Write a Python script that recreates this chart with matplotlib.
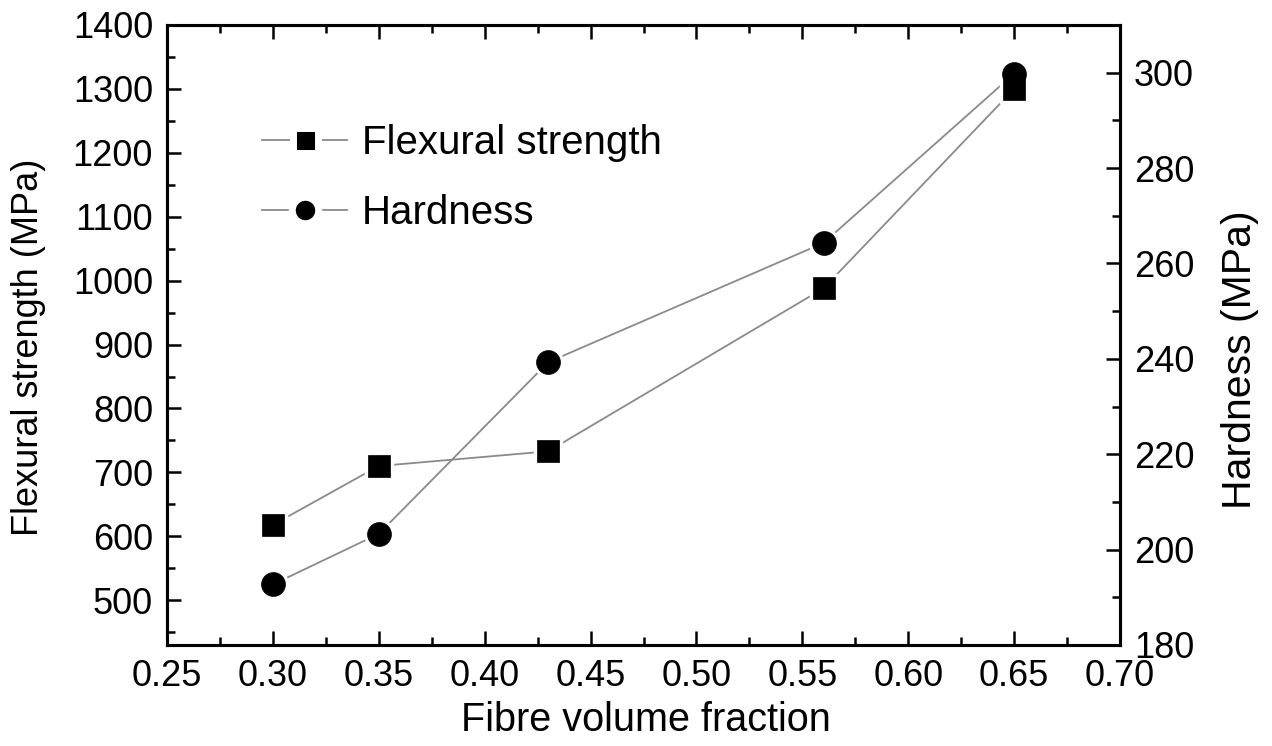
# -*- coding: utf-8 -*-
# Flexural strength and hardness against fibre volume fraction (twin y axes)

import matplotlib
matplotlib.use("Agg")
import matplotlib.pyplot as plt
from matplotlib.lines import Line2D
from matplotlib.ticker import MultipleLocator

plt.rcParams["font.family"] = ["Liberation Sans", "DejaVu Sans"]

# Data
fibre_fraction = [0.30, 0.35, 0.43, 0.56, 0.65]
flexural_strength = [618, 710, 733, 988, 1300]   # MPa, left axis
hardness = [192.7, 203.3, 239.3, 264.3, 299.8]   # MPa, right axis

x_ticks = [0.25, 0.30, 0.35, 0.40, 0.45, 0.50, 0.55, 0.60, 0.65, 0.70]
left_ticks = [500, 600, 700, 800, 900, 1000, 1100, 1200, 1300, 1400]
right_ticks = [180, 200, 220, 240, 260, 280, 300]

LINE_GREY = "#8a8a8a"
TICK_SIZE = 26

fig = plt.figure(figsize=(12.72, 7.46), dpi=100)
ax = fig.add_axes([0.1313, 0.1354, 0.7492, 0.8311])
ax2 = ax.twinx()

ax.set_xlim(0.25, 0.70)
ax.set_ylim(430, 1400)
ax2.set_ylim(180, 310)

# everything drawn on ax2 so that lines < white halos < black markers
series = [
    (flexural_strength, ax.transData, "s", 15.8),
    (hardness, ax2.transData, "o", 17.2),
]
for yvals, trans, mk, size in series:
    ax2.plot(fibre_fraction, yvals, color=LINE_GREY, lw=1.3, transform=trans, zorder=2)
for yvals, trans, mk, size in series:
    ax2.plot(fibre_fraction, yvals, ls="none", marker=mk, ms=size + 4.0,
             mfc="white", mec="white", transform=trans, zorder=3)
for yvals, trans, mk, size in series:
    ax2.plot(fibre_fraction, yvals, ls="none", marker=mk, ms=size,
             mfc="black", mec="black", mew=0.5, transform=trans, zorder=4)

ax.set_xticks(x_ticks)
ax.set_xticklabels(["{:.2f}".format(v) for v in x_ticks])
ax.xaxis.set_minor_locator(MultipleLocator(0.025))
ax.set_yticks(left_ticks)
ax.yaxis.set_minor_locator(MultipleLocator(50))
ax2.set_yticks(right_ticks)
ax2.yaxis.set_minor_locator(MultipleLocator(10))

for a in (ax, ax2):
    for sp in a.spines.values():
        sp.set_linewidth(2.2)
        sp.set_color("black")

ax.tick_params(axis="x", which="both", direction="in", top=True, bottom=True,
               labelsize=TICK_SIZE, pad=10, width=1.8)
ax.tick_params(axis="y", which="both", direction="in", left=True, right=False,
               labelsize=TICK_SIZE, pad=10, width=1.8)
ax2.tick_params(axis="y", which="both", direction="in", left=False, right=True,
                labelsize=TICK_SIZE, pad=10, width=1.8)
for a in (ax, ax2):
    a.tick_params(which="major", length=10)
    a.tick_params(which="minor", length=6)

ax.set_xlabel("Fibre volume fraction", fontsize=28.5)
ax.set_ylabel("Flexural strength (MPa)", fontsize=26)
ax2.set_ylabel("Hardness (MPa)", fontsize=29.5)
ax.xaxis.set_label_coords(0.503, -0.091)
ax.yaxis.set_label_coords(-0.127, 0.48)
ax2.yaxis.set_label_coords(1.106, 0.46)

handles = [
    Line2D([], [], color=LINE_GREY, lw=1.3, marker="s", ms=18, mfc="black",
           mec="white", mew=5),
    Line2D([], [], color=LINE_GREY, lw=1.3, marker="o", ms=19, mfc="black",
           mec="white", mew=5),
]
ax2.legend(handles=handles, labels=["Flexural strength", "Hardness"],
           loc="upper left", bbox_to_anchor=(0.062, 0.899), frameon=False,
           fontsize=29, handlelength=2.1, handletextpad=0.37,
           labelspacing=0.8, numpoints=1)

fig.savefig("out.png", dpi=100)
plt.close(fig)
